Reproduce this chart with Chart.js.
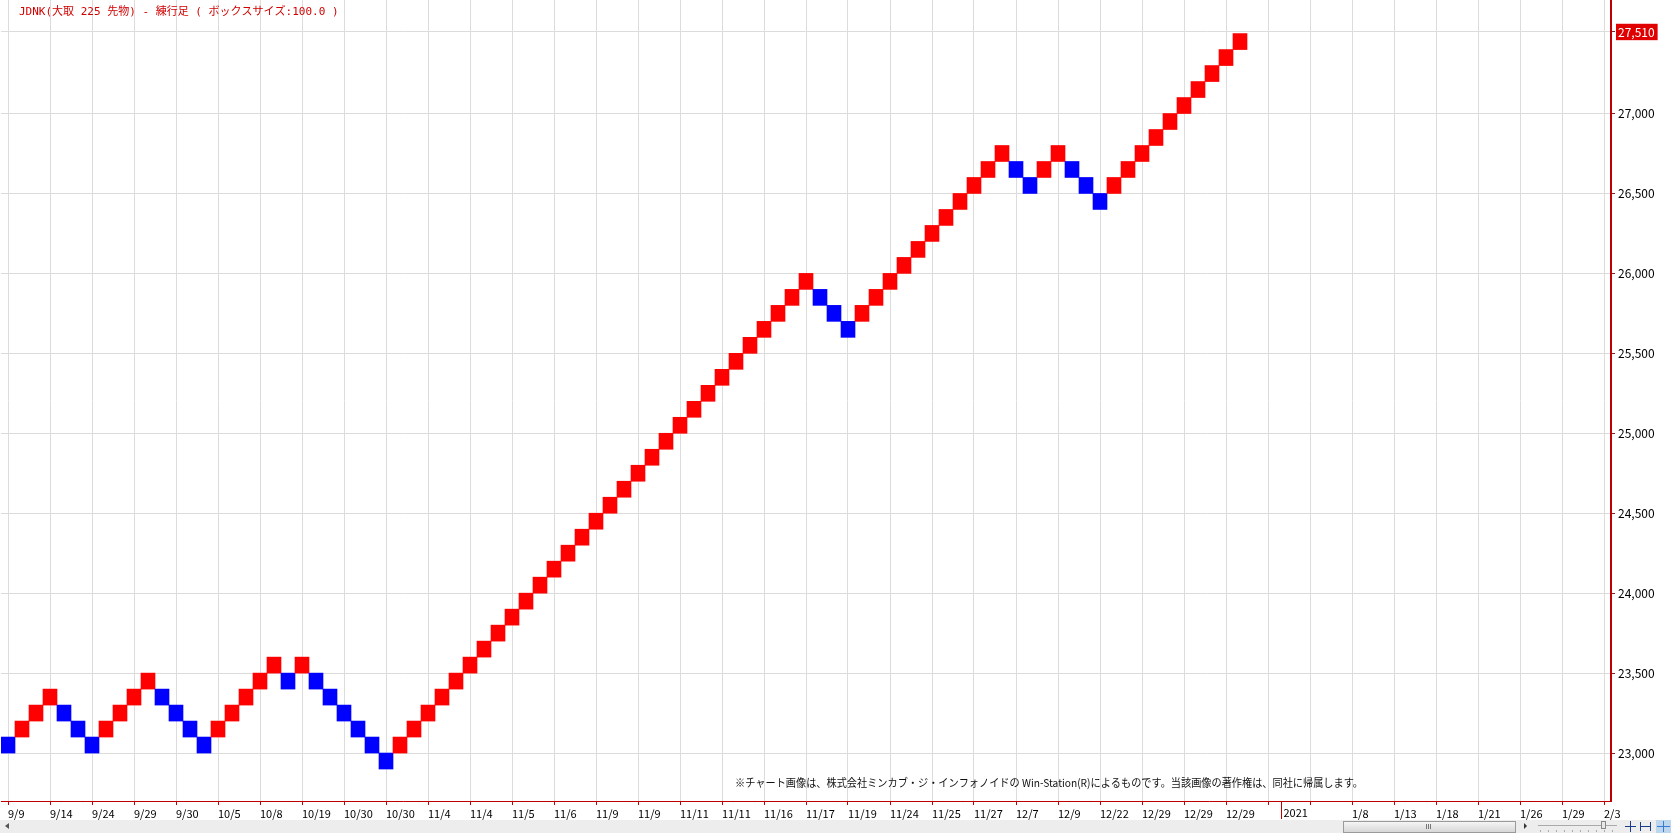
<!DOCTYPE html>
<html>
<head>
<meta charset="utf-8">
<script src="https://cdn.jsdelivr.net/npm/chart.js@4.4.1/dist/chart.umd.min.js"></script>
<style>
  html, body { margin: 0; padding: 0; background: #fff; }
  #wrap { width: 1671px; height: 833px; }
</style>
</head>
<body>
<div id="wrap"><canvas id="renko" width="1671" height="833"></canvas></div>
<script>
const chartTitle = 'JDNK(大取 225 先物) - 練行足 ( ボックスサイズ:100.0 )';
const creditText = '※チャート画像は、株式会社ミンカブ・ジ・インフォノイドの Win-Station(R)によるものです。当該画像の著作権は、同社に帰属します。';

const boxSize = 100;
const lastPrice = 27510;
const totalCols = 115; // width of the visible window, in boxes

// bottom of each renko box, one per column
const boxBottom = [
  23000, 23100, 23200, 23300, 23200, 23100, 23000, 23100, 23200, 23300,
  23400, 23300, 23200, 23100, 23000, 23100, 23200, 23300, 23400, 23500,
  23400, 23500, 23400, 23300, 23200, 23100, 23000, 22900, 23000, 23100,
  23200, 23300, 23400, 23500, 23600, 23700, 23800, 23900, 24000, 24100,
  24200, 24300, 24400, 24500, 24600, 24700, 24800, 24900, 25000, 25100,
  25200, 25300, 25400, 25500, 25600, 25700, 25800, 25900, 25800, 25700,
  25600, 25700, 25800, 25900, 26000, 26100, 26200, 26300, 26400, 26500,
  26600, 26700, 26600, 26500, 26600, 26700, 26600, 26500, 26400, 26500,
  26600, 26700, 26800, 26900, 27000, 27100, 27200, 27300, 27400
];
// U = rising (red), D = falling (blue)
const boxDir = (
  'DUUUDDDUUU' + 'UDDDDUUUUU' + 'DUDDDDDDUU' + 'UUUUUUUUUU' + 'UUUUUUUUUU' +
  'UUUUUUUUDD' + 'DUUUUUUUUU' + 'UUDDUUDDDU' + 'UUUUUUUUU'
).split('');

// date label every third column
const dateTicks = [
  '9/9', '9/14', '9/24', '9/29', '9/30', '10/5', '10/8', '10/19', '10/30', '10/30',
  '11/4', '11/4', '11/5', '11/6', '11/9', '11/9', '11/11', '11/11', '11/16', '11/17',
  '11/19', '11/24', '11/25', '11/27', '12/7', '12/9', '12/22', '12/29', '12/29', '12/29',
  '', '', '1/8', '1/13', '1/18', '1/21', '1/26', '1/29', '2/3'
];
const yearCol = 91;
const yearLabel = '2021';

const priceTicks = [23000, 23500, 24000, 24500, 25000, 25500, 26000, 26500, 27000];

const FONT = "'Noto Sans CJK JP', 'DejaVu Sans', sans-serif";
const MONO = "'DejaVu Sans Mono', 'Noto Sans CJK JP', monospace";
const AXIS_RED = '#c00000';
const GRID = '#dcdcdc';

const decor = {
  id: 'decor',
  afterDraw(chart) {
    const ctx = chart.ctx;
    const x = chart.scales.x;
    const area = chart.chartArea;
    ctx.save();

    // title
    ctx.font = '11px ' + MONO;
    ctx.fillStyle = '#d00000';
    ctx.textBaseline = 'middle';
    ctx.textAlign = 'left';
    ctx.fillText(chartTitle, 19, 12, 320);

    // credit line
    ctx.font = '11px ' + FONT;
    ctx.fillStyle = '#111';
    ctx.fillText(creditText, 735, 783, 628);

    // year separator
    const yx = Math.round(x.getPixelForValue(yearCol)) - 0.5;
    ctx.strokeStyle = AXIS_RED;
    ctx.lineWidth = 1;
    ctx.beginPath();
    ctx.moveTo(yx, area.bottom);
    ctx.lineTo(yx, 819);
    ctx.stroke();
    ctx.font = '11px ' + FONT;
    ctx.fillStyle = '#000';
    ctx.textBaseline = 'top';
    ctx.fillText(yearLabel, yx + 2, 807);

    // scroll bar strip
    ctx.fillStyle = '#ededed';
    ctx.fillRect(0, 820, 1671, 13);
    ctx.fillStyle = '#555';
    ctx.beginPath();
    ctx.moveTo(5, 826); ctx.lineTo(9, 823); ctx.lineTo(9, 829); ctx.fill();
    const g = ctx.createLinearGradient(0, 821, 0, 833);
    g.addColorStop(0, '#f8f8f8'); g.addColorStop(1, '#d4d4d4');
    ctx.fillStyle = g;
    ctx.fillRect(1343, 821, 173, 12);
    ctx.strokeStyle = '#9a9a9a';
    ctx.strokeRect(1343.5, 821.5, 172, 11);
    ctx.strokeStyle = '#777';
    for (let i = 0; i < 3; i++) {
      ctx.beginPath(); ctx.moveTo(1426.5 + i * 2, 824); ctx.lineTo(1426.5 + i * 2, 829); ctx.stroke();
    }
    ctx.fillStyle = '#333';
    ctx.beginPath();
    ctx.moveTo(1527, 826); ctx.lineTo(1524, 823); ctx.lineTo(1524, 829); ctx.fill();
    ctx.strokeStyle = '#aaa';
    ctx.beginPath(); ctx.moveTo(1538, 825.5); ctx.lineTo(1617, 825.5); ctx.stroke();
    for (let t = 1540; t < 1618; t += 8) {
      ctx.beginPath(); ctx.moveTo(t + 0.5, 830); ctx.lineTo(t + 0.5, 832); ctx.stroke();
    }
    ctx.fillStyle = '#e8e8e8';
    ctx.fillRect(1601, 821, 5, 8);
    ctx.strokeStyle = '#888';
    ctx.strokeRect(1601.5, 821.5, 4, 7);
    // toolbar icons
    ctx.strokeStyle = '#1a3a8a';
    ctx.beginPath();
    ctx.moveTo(1625, 826.5); ctx.lineTo(1636, 826.5);
    ctx.moveTo(1630.5, 821); ctx.lineTo(1630.5, 832);
    ctx.moveTo(1640, 826.5); ctx.lineTo(1651, 826.5);
    ctx.moveTo(1640.5, 822); ctx.lineTo(1640.5, 831);
    ctx.moveTo(1650.5, 822); ctx.lineTo(1650.5, 831);
    ctx.stroke();
    ctx.fillStyle = '#bcd6ee';
    ctx.fillRect(1656, 820, 15, 13);
    ctx.strokeStyle = '#3a7bd5';
    ctx.beginPath();
    ctx.moveTo(1657, 826.5); ctx.lineTo(1670, 826.5);
    ctx.moveTo(1663.5, 821); ctx.lineTo(1663.5, 832);
    ctx.stroke();

    ctx.restore();
  }
};

new Chart(document.getElementById('renko'), {
  type: 'bar',
  data: {
    labels: Array.from({ length: totalCols }, (_, i) => String(i)),
    datasets: [{
      data: boxBottom.map(b => [b, b + boxSize]),
      backgroundColor: boxDir.map(d => d === 'U' ? '#ff0000' : '#0000ff'),
      borderWidth: 0,
      barPercentage: 1,
      categoryPercentage: 1
    }]
  },
  options: {
    responsive: false,
    animation: false,
    layout: { padding: { left: 1, right: 0, top: 0, bottom: 0 } },
    plugins: { legend: { display: false }, tooltip: { enabled: false } },
    scales: {
      x: {
        type: 'category',
        offset: true,
        afterBuildTicks: s => { s.ticks = s.ticks.filter(t => t.value % 3 === 0); },
        afterFit: s => { s.height = 32; s.paddingLeft = 0; s.paddingRight = 0; },
        border: { color: AXIS_RED, width: 1 },
        grid: { offset: false, color: GRID, tickColor: AXIS_RED, tickLength: 4 },
        ticks: {
          autoSkip: false, maxRotation: 0, minRotation: 0, align: 'start', padding: 2,
          color: '#000', font: { family: FONT, size: 11 },
          callback: v => (v % 3 === 0 ? dateTicks[v / 3] : '')
        }
      },
      y: {
        position: 'right',
        min: 22700,
        max: 27710,
        afterBuildTicks: s => { s.ticks = priceTicks.concat([lastPrice]).map(v => ({ value: v })); },
        afterFit: s => { s.width = 60; s.paddingTop = 0; s.paddingBottom = 0; },
        border: { color: AXIS_RED, width: 2 },
        grid: { color: GRID, tickColor: '#8a2020', tickLength: 4 },
        ticks: {
          padding: 3,
          font: { family: FONT, size: 12 },
          color: c => (c.tick && c.tick.value === lastPrice ? '#fff' : '#000'),
          showLabelBackdrop: c => !!(c.tick && c.tick.value === lastPrice),
          backdropColor: '#e00000',
          backdropPadding: { left: 2, right: 3, top: 1, bottom: 1 },
          callback: v => v.toLocaleString('en-US')
        }
      }
    }
  },
  plugins: [decor]
});
</script>
</body>
</html>
